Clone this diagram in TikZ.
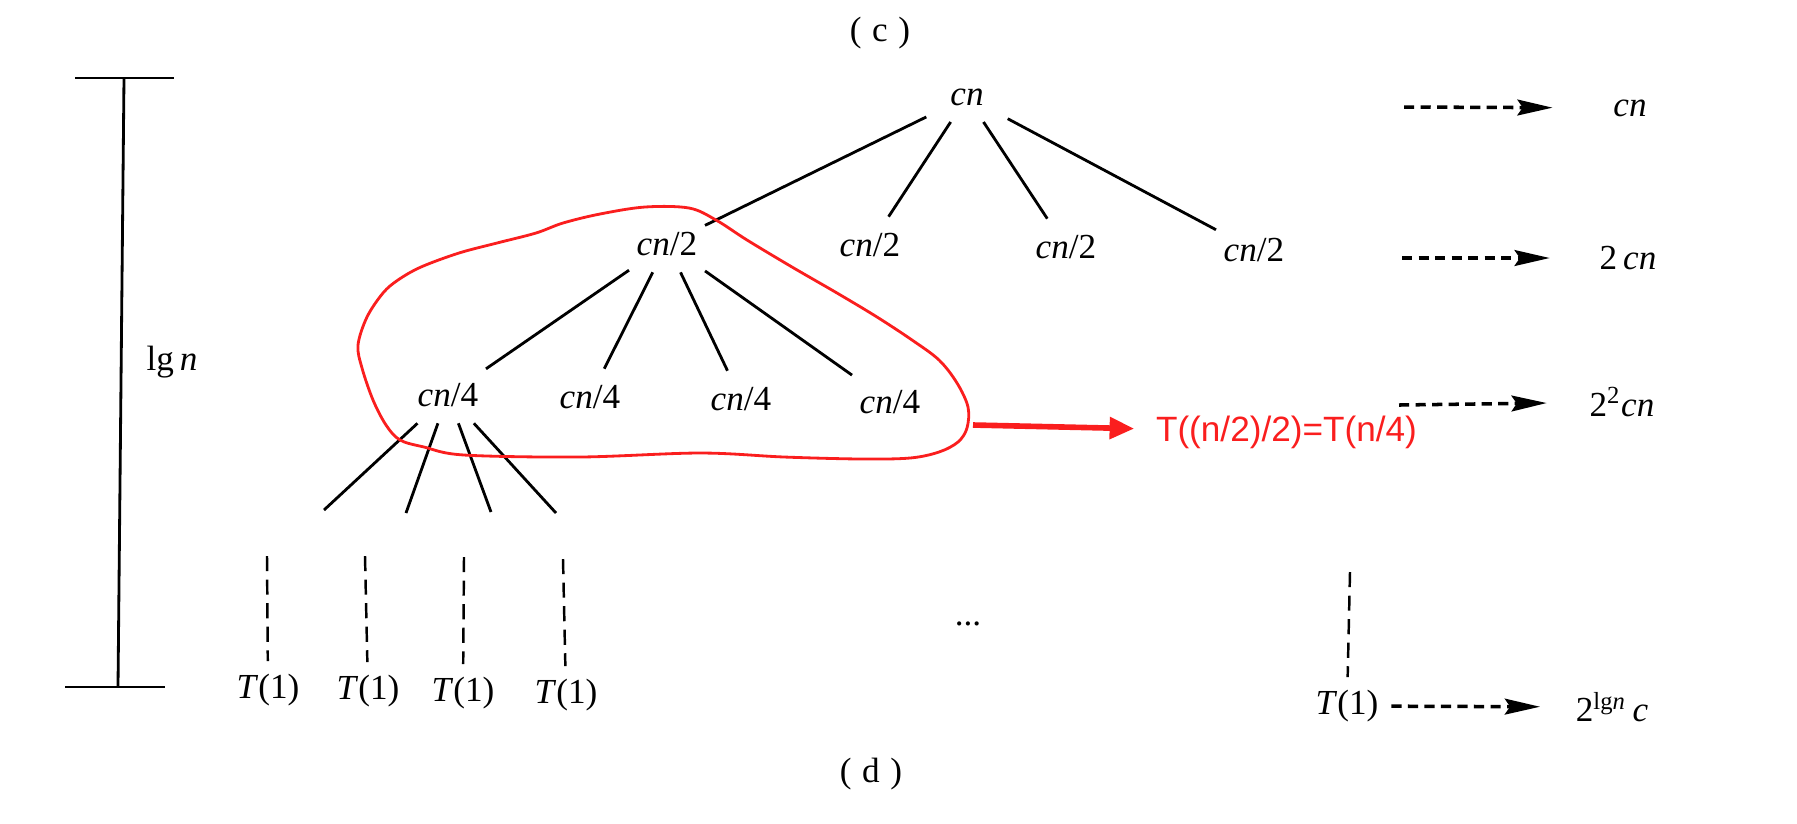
\documentclass[tikz,border=0pt]{standalone}
\usepackage{fontspec}
\setmainfont{Liberation Serif}
\newfontfamily\notesans{Liberation Sans}
\usetikzlibrary{arrows.meta}
\definecolor{markred}{RGB}{250,30,30}

\begin{document}
\begin{tikzpicture}[x=0.01cm, y=-0.01cm]
        \pgfdeclarelayer{nodelayer}
        \pgfdeclarelayer{edgelayer}
        \pgfsetlayers{nodelayer,edgelayer,main}
        \tikzstyle{term}=[fill=none, draw=none, inner sep=3.5pt]
        \tikzstyle{tree node}=[fill=none, draw=none, inner xsep=2pt, inner ysep=4.5pt]
        \tikzstyle{tree line}=[line width=0.8pt]
        \tikzstyle{leaf line}=[line width=0.7pt, dash pattern=on 4.3pt off 2.4pt]
        \tikzstyle{sum arrow}=[line width=1pt, dash pattern=on 2.9pt off 1.8pt, -{Stealth[length=10pt, width=4.5pt, inset=1.5pt]}]
        \tikzstyle{note line}=[markred, line width=0.8pt]
        \useasboundingbox (0,0) rectangle (1797,823);
        \begin{pgfonlayer}{nodelayer}
            \node [style=tree node, minimum width=0.8cm] (0) at (967, 97) {\textit{cn}};
            \node [style=tree node] (1) at (667, 244) {\textit{cn}/2};
            \node [style=tree node] (2) at (870, 245) {\textit{cn}/2};
            \node [style=tree node] (3) at (1066, 247) {\textit{cn}/2};
            \node [style=tree node] (4) at (1254, 250) {\textit{cn}/2};
            \node [style=tree node] (5) at (448, 395) {\textit{cn}/4};
            \node [style=tree node] (6) at (590, 397) {\textit{cn}/4};
            \node [style=tree node] (7) at (741, 399) {\textit{cn}/4};
            \node [style=tree node] (8) at (890, 402) {\textit{cn}/4};
            \coordinate (9) at (324, 510);
            \coordinate (10) at (406, 513);
            \coordinate (11) at (491, 512);
            \coordinate (12) at (556, 513);
            \coordinate (13) at (267, 556);
            \coordinate (14) at (365, 556);
            \coordinate (15) at (464, 557);
            \coordinate (16) at (563, 559);
            \node [style=term] (17) at (268, 690) {\textit{T}(1)};
            \node [style=term] (18) at (368, 691) {\textit{T}(1)};
            \node [style=term] (19) at (463, 693) {\textit{T}(1)};
            \node [style=term] (20) at (566, 695) {\textit{T}(1)};
            \coordinate (21) at (1350, 572);
            \node [style=term] (22) at (1347, 706) {\textit{T}(1)};
            \node [style=term] (23) at (1630, 108) {\textit{cn}};
            \node [style=term] (24) at (1628, 258) {2\,\textit{cn}};
            \node [style=term] (25) at (1622, 402) {2\textsuperscript{2}\textit{cn}};
            \node [style=term] (26) at (1612, 707) {2\textsuperscript{lg\textit{n}}\,\textit{c}};
            \coordinate (27) at (1404, 107);
            \coordinate (28) at (1402, 258);
            \coordinate (29) at (1399, 405);
            \node [style=term, anchor=west, text=markred] (30) at (1143, 432) {\notesans T((n/2)/2)=T(n/4)};
            \coordinate (31) at (973, 425);
            \node [style=term] (32) at (968, 624) {...};
            \node [style=term] (33) at (880, 33) {(\hspace{0.3em}c\hspace{0.3em})};
            \node [style=term] (34) at (871, 774) {(\hspace{0.3em}d\hspace{0.3em})};
            \node [style=term] (35) at (172, 362) {lg\,\textit{n}};
        \end{pgfonlayer}
        \begin{pgfonlayer}{edgelayer}
            % height bar
            \draw [style=tree line] (75, 78) -- (174, 78);
            \draw [style=tree line] (124, 78) -- (118, 687);
            \draw [style=tree line] (65, 687) -- (165, 687);

            \draw [style=tree line] (0) to (1);
            \draw [style=tree line] (0) to (2);
            \draw [style=tree line] (0) to (3);
            \draw [style=tree line] (0) to (4);
            \draw [style=tree line] (1) to (5);
            \draw [style=tree line] (1) to (6);
            \draw [style=tree line] (1) to (7);
            \draw [style=tree line] (1) to (8);
            \draw [style=tree line] (5) to (9);
            \draw [style=tree line] (5) to (10);
            \draw [style=tree line] (5) to (11);
            \draw [style=tree line] (5) to (12);

            \draw [style=leaf line] (13) to (17);
            \draw [style=leaf line] (14) to (18);
            \draw [style=leaf line] (15) to (19);
            \draw [style=leaf line] (16) to (20);
            \draw [style=leaf line] (21) to (22);

            \draw [style=sum arrow, shorten >=13.6pt] (27) to (23);
            \draw [style=sum arrow, shorten >=10.5pt] (28) to (24);
            \draw [style=sum arrow, shorten >=8.5pt] (29) to (25);
            \draw [style=sum arrow, shorten >=6.5pt] (22) to (26);

            % the subtree T(n/2)
            \draw [style=note line] plot [smooth cycle, tension=0.55] coordinates {
                (645,207) (689,208) (716,220) (747,240) (792,267) (837,293) (877,317)
                (912,340) (939,360) (957,383) (968,407) (967,428) (958,442) (939,452)
                (910,458) (861,459) (784,457) (700,453) (580,457) (464,455) (424,447)
                (400,440) (386,425) (373,400) (362,368) (358,345) (367,317) (383,293)
                (398,280) (421,267) (459,253) (497,243) (536,233) (563,223) (600,214)};
            \draw [markred, line width=1.6pt, -{Triangle[length=7pt, width=6pt]}, shorten >=2.5pt] (31) to (30);
        \end{pgfonlayer}
    \end{tikzpicture}
\end{document}
